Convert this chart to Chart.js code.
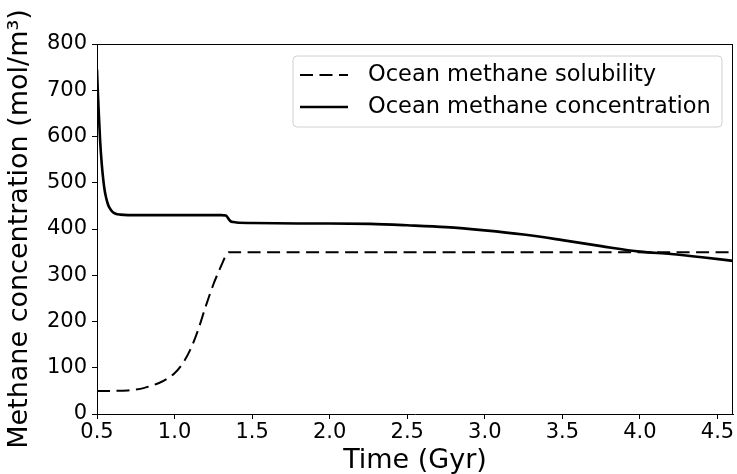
<!DOCTYPE html>
<html>
<head>
<meta charset="utf-8">
<script src="https://cdn.jsdelivr.net/npm/chart.js@4/dist/chart.umd.min.js"></script>
<style>
  html, body { margin: 0; padding: 0; background: #fff; }
  canvas { display: block; }
</style>
</head>
<body>
<canvas id="c" width="737" height="474"></canvas>
<script>
// ---- data ----
const concTime = [0.5, 0.505, 0.51, 0.52, 0.53, 0.54, 0.55, 0.56, 0.57, 0.58, 0.6, 0.62, 0.65, 0.7, 0.9, 1.1, 1.3, 1.33, 1.34, 1.35, 1.36, 1.38, 1.4, 1.5, 1.8, 2.0, 2.26, 2.5, 2.75, 3.0, 3.25, 3.5, 3.75, 4.0, 4.2, 4.4, 4.6];
const concValues = [745, 700, 662, 592, 543, 508, 482, 466, 454, 446, 437, 433, 431, 430, 430, 430, 430, 429, 426, 421, 417, 415, 414, 413, 412, 412, 411, 408, 404, 397, 388, 376, 363, 351, 346, 339, 331];

const solTime = [0.5, 0.6, 0.7, 0.75, 0.8, 0.85, 0.9, 0.95, 1.0, 1.05, 1.1, 1.15, 1.2, 1.25, 1.3, 1.33, 1.35, 1.4, 2.0, 3.0, 4.0, 4.6];
const solValues = [50, 50, 51, 53, 56, 61, 67, 76, 88, 108, 138, 180, 232, 280, 320, 342, 350, 350, 350, 350, 350, 350];

const xTickValues = [0.5, 1.0, 1.5, 2.0, 2.5, 3.0, 3.5, 4.0, 4.5];
const yTickValues = [0, 100, 200, 300, 400, 500, 600, 700, 800];

const seriesNames = ['Ocean methane solubility', 'Ocean methane concentration'];
const xTitle = 'Time (Gyr)';
const yTitle = 'Methane concentration (mol/m\u00B3)';

// ---- chart ----
const FONT = "'DejaVu Sans', sans-serif";
const DASH = [13, 6.5];

const toXY = (xs, ys) => xs.map((x, i) => ({ x: x, y: ys[i] }));

const frameAndLegend = {
  id: 'frameAndLegend',
  afterDraw(chart) {
    const ctx = chart.ctx;
    const a = chart.chartArea;
    ctx.save();
    // top and right spines
    ctx.strokeStyle = '#000';
    ctx.lineWidth = 1;
    ctx.beginPath();
    ctx.moveTo(a.left, a.top + 0.5);
    ctx.lineTo(a.right, a.top + 0.5);
    ctx.moveTo(a.right - 0.5, a.top);
    ctx.lineTo(a.right - 0.5, a.bottom);
    ctx.stroke();

    // legend box
    const bx = 293, by = 56, bw = 429, bh = 71, r = 4;
    ctx.fillStyle = 'rgba(255,255,255,0.8)';
    ctx.strokeStyle = '#d0d0d0';
    ctx.lineWidth = 1;
    ctx.beginPath();
    ctx.moveTo(bx + r, by);
    ctx.lineTo(bx + bw - r, by);
    ctx.quadraticCurveTo(bx + bw, by, bx + bw, by + r);
    ctx.lineTo(bx + bw, by + bh - r);
    ctx.quadraticCurveTo(bx + bw, by + bh, bx + bw - r, by + bh);
    ctx.lineTo(bx + r, by + bh);
    ctx.quadraticCurveTo(bx, by + bh, bx, by + bh - r);
    ctx.lineTo(bx, by + r);
    ctx.quadraticCurveTo(bx, by, bx + r, by);
    ctx.closePath();
    ctx.fill();
    ctx.stroke();

    const rows = [75, 107];
    chart.data.datasets.forEach((ds, i) => {
      const y = rows[i];
      ctx.strokeStyle = ds.borderColor;
      ctx.lineWidth = ds.borderWidth;
      ctx.setLineDash(ds.borderDash || []);
      ctx.beginPath();
      ctx.moveTo(300, y);
      ctx.lineTo(348, y);
      ctx.stroke();
      ctx.setLineDash([]);
      ctx.fillStyle = '#000';
      ctx.font = "22.5px " + FONT;
      ctx.textBaseline = 'middle';
      ctx.textAlign = 'left';
      ctx.fillText(ds.label, 368, y);
    });
    ctx.restore();
  }
};

new Chart(document.getElementById('c'), {
  type: 'line',
  data: {
    datasets: [
      {
        label: seriesNames[0],
        data: toXY(solTime, solValues),
        borderColor: '#000',
        borderWidth: 2,
        borderDash: DASH,
        pointRadius: 0,
        fill: false,
        cubicInterpolationMode: 'monotone'
      },
      {
        label: seriesNames[1],
        data: toXY(concTime, concValues),
        borderColor: '#000',
        borderWidth: 2.6,
        pointRadius: 0,
        fill: false,
        cubicInterpolationMode: 'monotone'
      }
    ]
  },
  options: {
    responsive: false,
    animation: false,
    layout: { padding: { left: 0, right: 4, top: 44, bottom: 0 } },
    plugins: {
      legend: { display: false },
      tooltip: { enabled: false }
    },
    scales: {
      x: {
        type: 'linear',
        min: 0.5,
        max: 4.6,
        afterBuildTicks: (s) => { s.ticks = xTickValues.map(v => ({ value: v })); },
        afterFit: (s) => { s.height = 60; },
        grid: { display: true, drawOnChartArea: false, drawTicks: true, tickLength: 5, tickColor: '#000', tickWidth: 1 },
        border: { display: true, color: '#000', width: 1 },
        ticks: {
          color: '#000',
          font: { family: FONT, size: 21 },
          padding: 1,
          maxRotation: 0,
          autoSkip: false,
          callback: (v) => Number(v).toFixed(1)
        },
        title: {
          display: true,
          text: xTitle,
          color: '#000',
          font: { family: FONT, size: 27 },
          padding: { top: 0, bottom: -3 }
        }
      },
      y: {
        type: 'linear',
        min: 0,
        max: 800,
        afterBuildTicks: (s) => { s.ticks = yTickValues.map(v => ({ value: v })); },
        afterFit: (s) => { s.width = 97; },
        grid: { display: true, drawOnChartArea: false, drawTicks: true, tickLength: 5, tickColor: '#000', tickWidth: 1 },
        border: { display: true, color: '#000', width: 1 },
        ticks: {
          color: '#000',
          font: { family: FONT, size: 21 },
          padding: 5,
          autoSkip: false,
          callback: (v) => String(v)
        },
        title: {
          display: true,
          text: yTitle,
          color: '#000',
          font: { family: FONT, size: 27 },
          padding: { top: 4, bottom: 0 }
        }
      }
    }
  },
  plugins: [frameAndLegend]
});
</script>
</body>
</html>
